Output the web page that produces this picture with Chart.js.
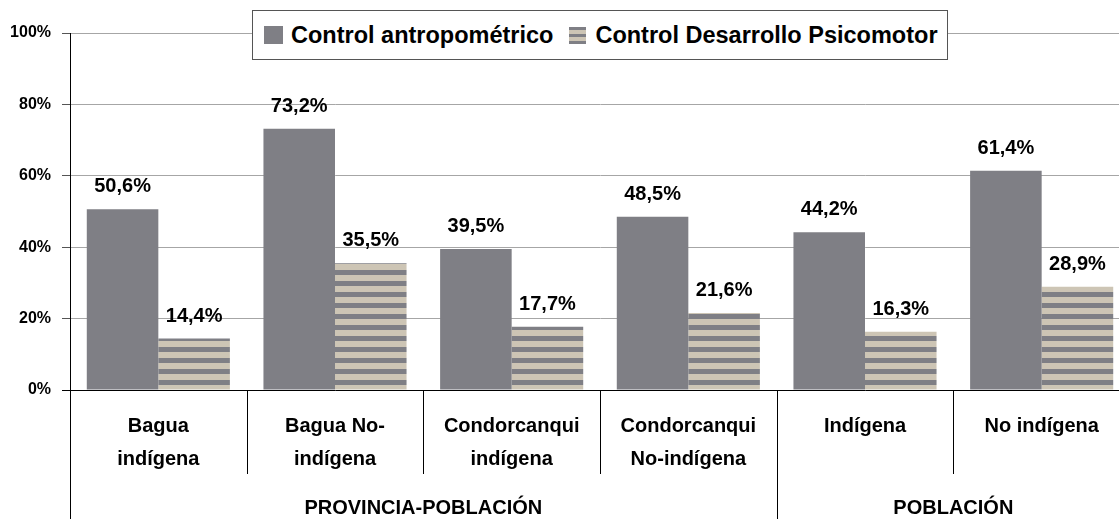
<!DOCTYPE html>
<html>
<head>
<meta charset="utf-8">
<script src="https://cdn.jsdelivr.net/npm/chart.js@4"></script>
<style>
  body { margin: 0; overflow: hidden; background: #fff; }
  #wrap { position: relative; width: 1131px; height: 519px; }
  #legend {
    position: absolute; left: 252px; top: 10px; width: 694px; height: 48px;
    border: 1px solid #555; background: #fff; display: flex; align-items: center;
    font: bold 23.5px "Liberation Sans", Arial, sans-serif; color: #000; white-space: nowrap;
  }
  .sw { display: inline-block; }
  .solido { width: 19px; height: 18px; margin-left: 11px; background: #7f7f85; }
  .rayado { width: 17px; height: 17px; margin-left: 16px;
    background: repeating-linear-gradient(to bottom, #7f7f85 0 3px, #cdc5b5 3px 7px); }
</style>
</head>
<body>
<div id="wrap">
  <canvas id="grafico" width="1131" height="519"></canvas>
  <div id="legend">
    <span class="sw solido"></span><span style="margin-left:8px">Control antropométrico</span>
    <span class="sw rayado"></span><span style="margin-left:9px">Control Desarrollo Psicomotor</span>
  </div>
</div>
<script>
// ======= Datos =======
const categorias = [
  ["Bagua", "indígena"],
  ["Bagua No-", "indígena"],
  ["Condorcanqui", "indígena"],
  ["Condorcanqui", "No-indígena"],
  "Indígena",
  "No indígena"
];
const antropometrico = [50.6, 73.2, 39.5, 48.5, 44.2, 61.4];
const psicomotor = [14.4, 35.5, 17.7, 21.6, 16.3, 28.9];
const grupos = ["PROVINCIA-POBLACIÓN", "POBLACIÓN"];
const gruposTamano = [4, 2]; // cuantas categorias abarca cada grupo
const yTicks = [0, 20, 40, 60, 80, 100];

const GRIS = "#7f7f85";
const BEIGE = "#cdc5b5";
const FUENTE = '"Liberation Sans", Arial, sans-serif';

// trama a rayas horizontales (anclada al canvas)
function crearRayado() {
  const c = document.createElement("canvas");
  c.width = 11; c.height = 11;
  const g = c.getContext("2d");
  g.fillStyle = BEIGE; g.fillRect(0, 0, 11, 6);
  g.fillStyle = GRIS; g.fillRect(0, 6, 11, 5);
  return g.createPattern(c, "repeat");
}

// ======= Plugins =======
const etiquetasPlugin = {
  id: "etiquetas",
  afterDatasetsDraw(chart) {
    const ctx = chart.ctx;
    ctx.save();
    ctx.font = "bold 20px " + FUENTE;
    ctx.fillStyle = "#000";
    ctx.textAlign = "center";
    ctx.textBaseline = "alphabetic";
    chart.data.datasets.forEach((ds, i) => {
      chart.getDatasetMeta(i).data.forEach((bar, j) => {
        const txt = ds.data[j].toFixed(1).replace(".", ",") + "%";
        ctx.fillText(txt, bar.x, bar.y - 17);
      });
    });
    ctx.restore();
  }
};

const ejeXPlugin = {
  id: "ejeX",
  afterDraw(chart) {
    const ctx = chart.ctx;
    const x = chart.scales.x;
    const area = chart.chartArea;
    const ancho = x.getPixelForValue(1) - x.getPixelForValue(0);
    ctx.save();
    ctx.strokeStyle = "#000";
    ctx.lineWidth = 1;
    // eje vertical hasta abajo
    ctx.beginPath();
    ctx.moveTo(area.left + 0.5, area.top);
    ctx.lineTo(area.left + 0.5, chart.height);
    ctx.stroke();
    // separadores de categorias
    let fin = 0;
    const finesGrupo = gruposTamano.map(n => (fin += n));
    for (let k = 1; k < categorias.length; k++) {
      const px = Math.round(x.getPixelForValue(k) - ancho / 2) + 0.5;
      const largo = finesGrupo.includes(k) ? chart.height : area.bottom + 84;
      ctx.beginPath();
      ctx.moveTo(px, area.bottom);
      ctx.lineTo(px, largo);
      ctx.stroke();
    }
    // nombres de grupo
    ctx.font = "bold 20px " + FUENTE;
    ctx.fillStyle = "#000";
    ctx.textAlign = "center";
    ctx.textBaseline = "middle";
    let ini = 0;
    grupos.forEach((g, i) => {
      const a = x.getPixelForValue(ini) - ancho / 2;
      const b = x.getPixelForValue(ini + gruposTamano[i] - 1) + ancho / 2;
      ctx.fillText(g, (a + b) / 2, 508);
      ini += gruposTamano[i];
    });
    ctx.restore();
  }
};

// ======= Grafico =======
Chart.defaults.font.family = FUENTE;
Chart.defaults.color = "#000";

const ctx = document.getElementById("grafico").getContext("2d");
const rayado = crearRayado();

new Chart(ctx, {
  type: "bar",
  data: {
    labels: categorias,
    datasets: [
      { label: "Control antropométrico", data: antropometrico, backgroundColor: GRIS },
      { label: "Control Desarrollo Psicomotor", data: psicomotor, backgroundColor: rayado }
    ]
  },
  options: {
    responsive: false,
    animation: false,
    layout: { padding: { top: 33, right: 1, left: 0, bottom: 0 } },
    datasets: { bar: { categoryPercentage: 0.81, barPercentage: 1 } },
    plugins: { legend: { display: false }, tooltip: { enabled: false } },
    scales: {
      x: {
        grid: { display: false, drawTicks: false },
        border: { display: false },
        ticks: {
          font: { size: 20, weight: "bold", lineHeight: 1.65 },
          padding: 20,
          maxRotation: 0,
          autoSkip: false
        },
        afterFit(s) { s.height = 129; }
      },
      y: {
        min: 0,
        max: 100,
        afterBuildTicks(s) { s.ticks = yTicks.map(v => ({ value: v })); },
        grid: {
          color: c => (c.tick && c.tick.value === 0 ? "#000" : "#a6a6a6"),
          tickColor: c => (c.tick && c.tick.value === 0 ? "#000" : "#555"),
          tickLength: 8
        },
        border: { color: "#000" },
        ticks: {
          font: { size: 16, weight: "bold" },
          padding: 11,
          callback: v => v + "%"
        },
        afterFit(s) { s.width = 70; }
      }
    }
  },
  plugins: [etiquetasPlugin, ejeXPlugin]
});
</script>
</body>
</html>
